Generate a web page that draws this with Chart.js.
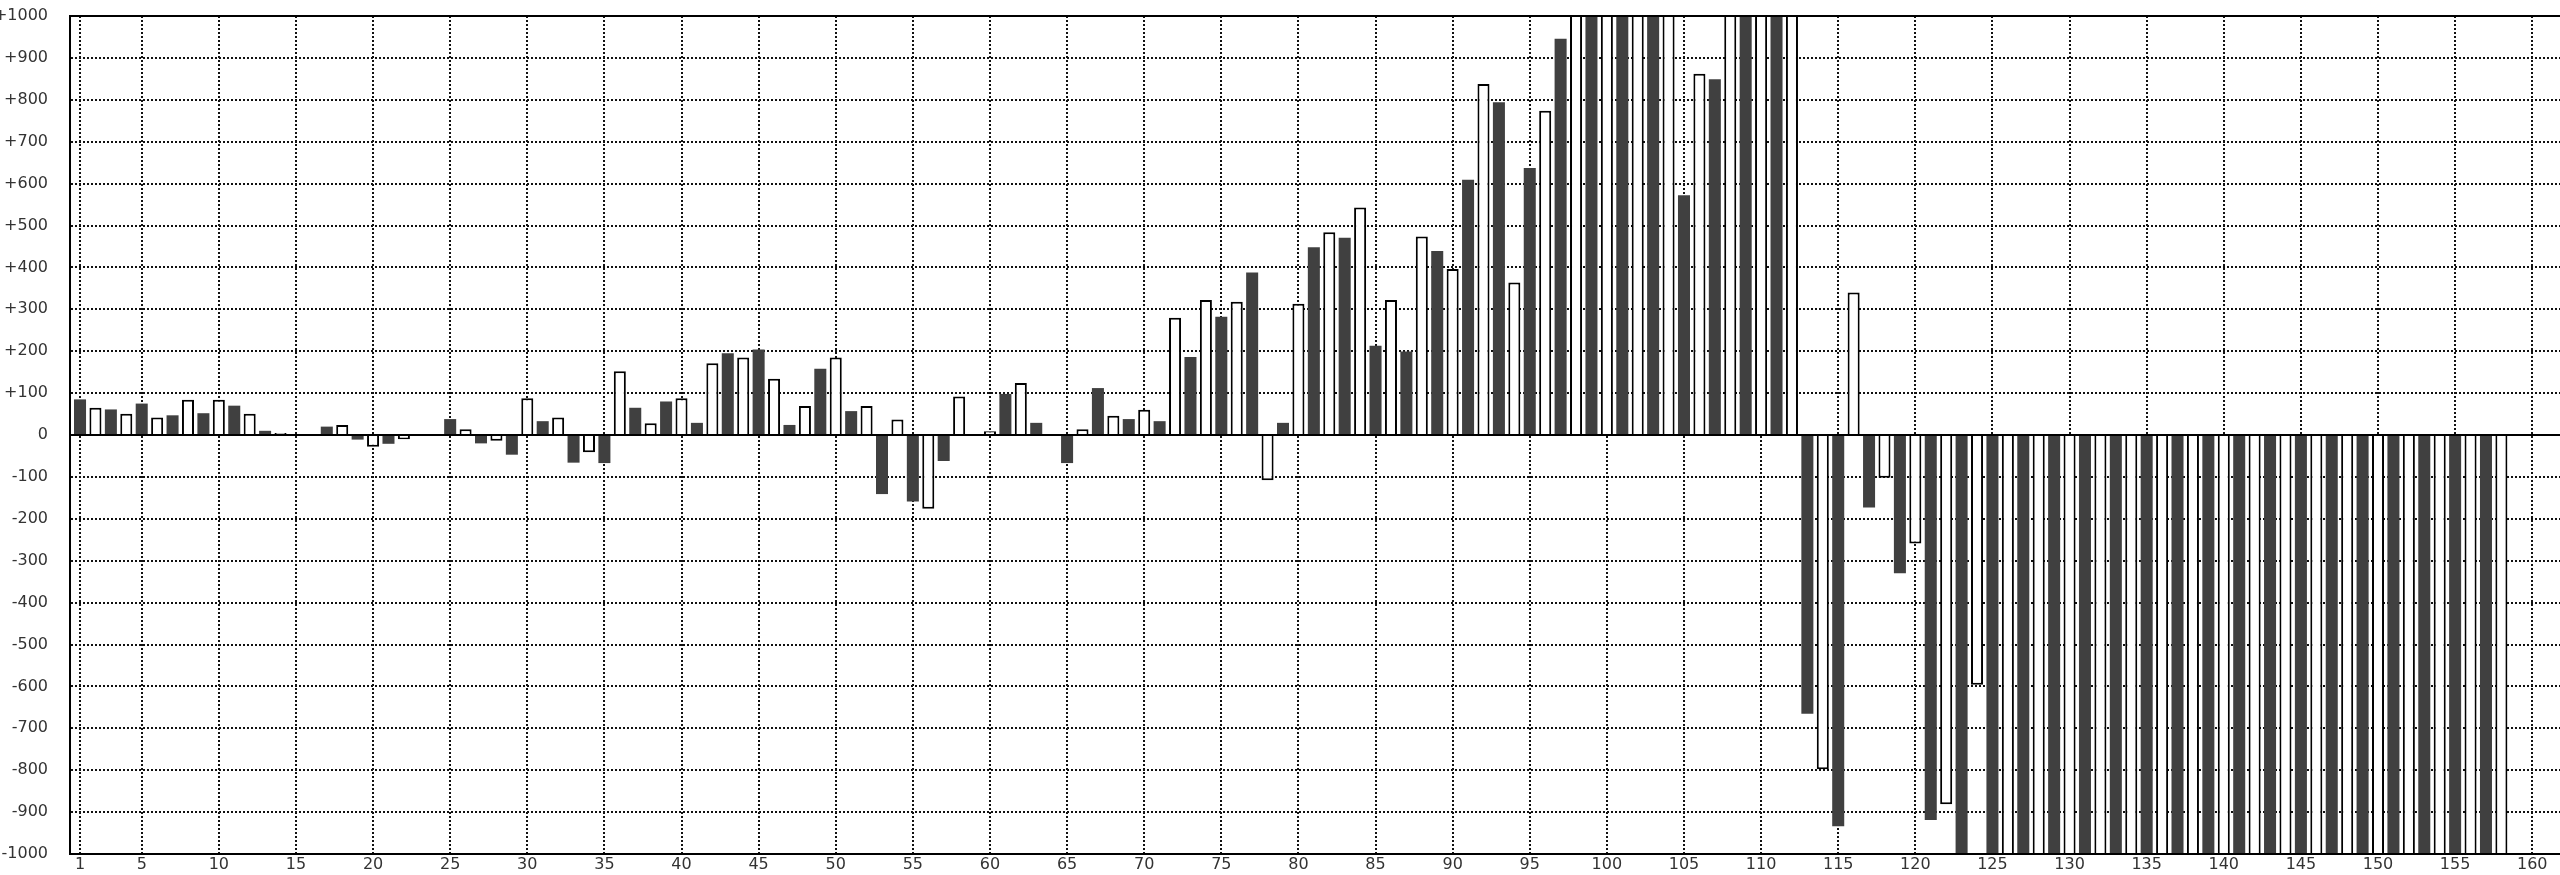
<!DOCTYPE html>
<html>
<head>
<meta charset="utf-8">
<title>Daily balance</title>
<script src="https://cdn.jsdelivr.net/npm/chart.js"></script>
<style>
  html, body { margin: 0; padding: 0; background: #fff; }
</style>
</head>
<body>
<canvas id="balanceChart" width="2560" height="875"></canvas>
<script>
// Values per day (bars past +/-1000 run off the frame)
const values = [
  85, 65, 61, 51, 75, 42, 47, 84, 52, 84,              // 1-10
  70, 51, 10, 5, 0, 2, 20, 24, -11, -28,               // 11-20
  -21, -10, 0, 0, 38, 14, -20, -14, -47, 88,           // 21-30
  33, 42, -66, -41, -67, 152, 65, 28, 80, 88,          // 31-40
  29, 171, 195, 185, 204, 134, 24, 69, 158, 185,       // 41-50
  57, 69, -141, 37, -159, -176, -62, 92, 0, 9,         // 51-60
  98, 124, 29, 0, -67, 14, 112, 46, 38, 60,            // 61-70
  33, 280, 186, 322, 282, 318, 388, -108, 29, 313,     // 71-80
  448, 484, 471, 543, 213, 322, 199, 474, 439, 396,    // 81-90
  609, 838, 794, 364, 637, 774, 946, 1120, 1240, 1180, // 91-100
  1310, 1150, 1270, 1090, 572, 862, 849, 1050, 1140, 1210, // 101-110
  1330, 1260, -665, -798, -934, 340, -173, -102, -330, -259, // 111-120
  -919, -881, -1080, -596, -1180, -1320, -1250, -1410, -1150, -1290, // 121-130
  -1370, -1220, -1460, -1310, -1190, -1280, -1350, -1240, -1420, -1170, // 131-140
  -1300, -1260, -1390, -1210, -1330, -1160, -1440, -1270, -1230, -1360, // 141-150
  -1200, -1310, -1400, -1250, -1180, -1340, -1290, -1220 // 151-158
];

// Day numbers shown under the x axis
const xTicks = [1, 5, 10, 15, 20, 25, 30, 35, 40, 45, 50, 55, 60, 65, 70, 75, 80,
  85, 90, 95, 100, 105, 110, 115, 120, 125, 130, 135, 140, 145, 150, 155, 160];

// y axis range
const yMin = -1000;
const yMax = 1000;
const yStep = 100;

const darkColor = '#404040';
const labelFont = { family: 'DejaVu Sans', size: 16 };

// Bars sit at day 1, 2, 3 ...
const points = values.map((v, i) => ({ x: i + 1, y: v }));

// Draw the frame and the zero line on top of the bars
const frameLines = {
  id: 'frameLines',
  afterDatasetsDraw(chart) {
    const { ctx, chartArea, scales } = chart;
    const y0 = scales.y.getPixelForValue(0);
    ctx.save();
    ctx.strokeStyle = '#000';
    ctx.lineWidth = 2;
    ctx.beginPath();
    ctx.moveTo(chartArea.left, y0);
    ctx.lineTo(chartArea.right, y0);
    ctx.moveTo(chartArea.left, chartArea.top);
    ctx.lineTo(chartArea.right, chartArea.top);
    ctx.moveTo(chartArea.left, chartArea.top);
    ctx.lineTo(chartArea.left, chartArea.bottom);
    ctx.moveTo(chartArea.left, chartArea.bottom);
    ctx.lineTo(chartArea.right, chartArea.bottom);
    ctx.stroke();
    ctx.restore();
  }
};

const ctx = document.getElementById('balanceChart').getContext('2d');
const balanceChart = new Chart(ctx, {
  type: 'bar',
  data: {
    datasets: [
      {
        data: points,
        // odd days dark, even days white with a black outline
        backgroundColor: (c) => (c.dataIndex % 2 === 0 ? darkColor : '#ffffff'),
        borderColor: (c) => (c.dataIndex % 2 === 0 ? darkColor : '#000000'),
        borderWidth: (c) => (c.dataIndex % 2 === 0 ? 0 : 2),
        borderSkipped: 'start',
        barPercentage: 0.78,
        categoryPercentage: 1,
        clip: 0,
      },
    ],
  },
  options: {
    responsive: false,
    animation: false,
    devicePixelRatio: 1,
    layout: { padding: { top: 16, right: 0, bottom: 0, left: 0 } },
    plugins: {
      legend: { display: false },
      tooltip: { enabled: false },
    },
    scales: {
      x: {
        type: 'linear',
        offset: false,
        min: 0.35,
        max: 161.8,
        afterBuildTicks: (axis) => {
          axis.ticks = xTicks.map((v) => ({ value: v }));
        },
        afterFit: (axis) => {
          axis.height = 21;
          axis.paddingLeft = 0;
          axis.paddingRight = 0;
        },
        ticks: {
          font: labelFont,
          color: '#333',
          padding: 1,
          maxRotation: 0,
          autoSkip: false,
        },
        grid: { offset: false, color: '#111', lineWidth: 2, drawTicks: false },
        border: { display: true, color: '#000', width: 2, dash: [2, 2] },
      },
      y: {
        min: yMin,
        max: yMax,
        afterFit: (axis) => {
          axis.width = 70;
          axis.paddingTop = 0;
          axis.paddingBottom = 0;
        },
        ticks: {
          stepSize: yStep,
          font: labelFont,
          color: '#333',
          padding: 22,
          callback: (v) => (v > 0 ? '+' + v : String(v)),
        },
        grid: { color: '#111', lineWidth: 2, drawTicks: false },
        border: { display: true, color: '#000', width: 2, dash: [2, 2] },
      },
    },
  },
  plugins: [frameLines],
});
</script>
</body>
</html>
